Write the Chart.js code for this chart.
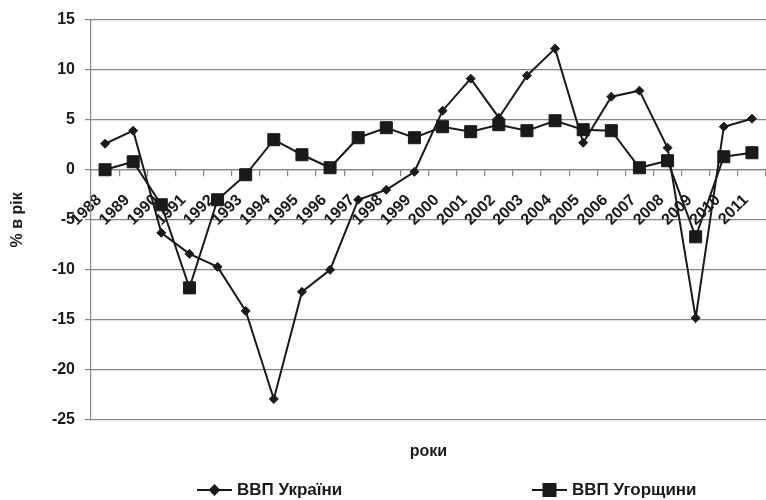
<!DOCTYPE html>
<html>
<head>
<meta charset="utf-8">
<script src="https://cdn.jsdelivr.net/npm/chart.js@4.4.1/dist/chart.umd.min.js"></script>
<style>
    body { margin: 0; background: #ffffff; }
    #box { width: 766px; height: 500px; }
</style>
</head>
<body>
<div id="box"><canvas id="gdp" width="766" height="500"></canvas></div>
<script>
// роки
var years = ['1988', '1989', '1990', '1991', '1992', '1993', '1994', '1995', '1996', '1997', '1998', '1999',
    '2000', '2001', '2002', '2003', '2004', '2005', '2006', '2007', '2008', '2009', '2010', '2011'];
// ВВП України, % в рік
var ukraine = [2.6, 3.9, -6.3, -8.4, -9.7, -14.1, -22.9, -12.2, -10.0, -3.0, -2.0, -0.2,
    5.9, 9.1, 5.2, 9.4, 12.1, 2.7, 7.3, 7.9, 2.2, -14.8, 4.3, 5.1];
// ВВП Угорщини, % в рік
var hungary = [0.0, 0.8, -3.5, -11.8, -3.0, -0.5, 3.0, 1.5, 0.2, 3.2, 4.2, 3.2,
    4.3, 3.8, 4.5, 3.9, 4.9, 4.0, 3.9, 0.2, 0.9, -6.7, 1.3, 1.7];
var yMin = -25;
var yMax = 15;
var yStep = 5;

var ink = '#1a1a1a';
var gridColor = '#858585';
var fontName = "'Liberation Sans', Arial, sans-serif";

// підпис осі X та легенда внизу
var bottomText = {
    id: 'bottomText',
    afterDraw: function (chart) {
        var ctx = chart.ctx;
        var area = chart.chartArea;
        ctx.save();
        ctx.fillStyle = ink;
        ctx.font = 'bold 16px ' + fontName;
        ctx.textAlign = 'center';
        ctx.textBaseline = 'middle';
        ctx.fillText('роки', (area.left + area.right) / 2, 452);

        var items = [
            { x: 197, sets: chart.data.datasets[0] },
            { x: 532, sets: chart.data.datasets[1] }
        ];
        var y = 490;
        items.forEach(function (item) {
            ctx.strokeStyle = ink;
            ctx.lineWidth = 2;
            ctx.beginPath();
            ctx.moveTo(item.x, y);
            ctx.lineTo(item.x + 35, y);
            ctx.stroke();
            Chart.helpers.drawPoint(ctx, {
                pointStyle: item.sets.pointStyle,
                radius: item.sets.pointRadius,
                borderWidth: 1
            }, item.x + 17.5, y);
            ctx.fill();
            ctx.fillStyle = ink;
            ctx.font = 'bold 17px ' + fontName;
            ctx.textAlign = 'left';
            ctx.fillText(item.sets.label, item.x + 40, y);
        });
        ctx.restore();
    }
};

const config = {
    type: 'line',
    data: {
        labels: years,
        datasets: [{
            label: 'ВВП України',
            data: ukraine,
            borderColor: ink,
            backgroundColor: ink,
            borderWidth: 2,
            pointStyle: 'rectRot',
            pointRadius: 4.5,
            pointBorderWidth: 1,
            tension: 0
        }, {
            label: 'ВВП Угорщини',
            data: hungary,
            borderColor: ink,
            backgroundColor: ink,
            borderWidth: 2,
            pointStyle: 'rect',
            pointRadius: 8.5,
            pointBorderWidth: 1,
            tension: 0
        }]
    },
    options: {
        responsive: false,
        animation: false,
        layout: { autoPadding: false, padding: { top: 18, right: 0, bottom: 80, left: 0 } },
        plugins: {
            legend: { display: false },
            tooltip: { enabled: false }
        },
        scales: {
            x: {
                position: { y: 0 },
                offset: true,
                afterFit: function (scale) {
                    // мітки всередині області, зайвий відступ справа не потрібен
                    scale.paddingLeft = 0;
                    scale.paddingRight = 0;
                },
                grid: {
                    offset: true,
                    drawOnChartArea: false,
                    color: gridColor,
                    tickLength: 6,
                    lineWidth: 1.2
                },
                border: { color: gridColor, width: 1.2 },
                ticks: {
                    color: ink,
                    font: { family: fontName, size: 16, weight: 'bold' },
                    minRotation: 45,
                    maxRotation: 45,
                    autoSkip: false,
                    padding: 15,
                    labelOffset: -6
                }
            },
            y: {
                min: yMin,
                max: yMax,
                afterFit: function (scale) { scale.width = 91; },
                grid: { color: gridColor, tickLength: 6, lineWidth: 1.2 },
                border: { color: gridColor, width: 1.2 },
                ticks: {
                    stepSize: yStep,
                    color: ink,
                    padding: 10,
                    font: { family: fontName, size: 16, weight: 'bold' }
                },
                title: {
                    display: true,
                    text: '% в рік',
                    color: ink,
                    padding: { top: 8, bottom: 0 },
                    font: { family: fontName, size: 16, weight: 'bold' }
                }
            }
        }
    },
    plugins: [bottomText]
};

new Chart(document.getElementById('gdp'), config);
</script>
</body>
</html>
